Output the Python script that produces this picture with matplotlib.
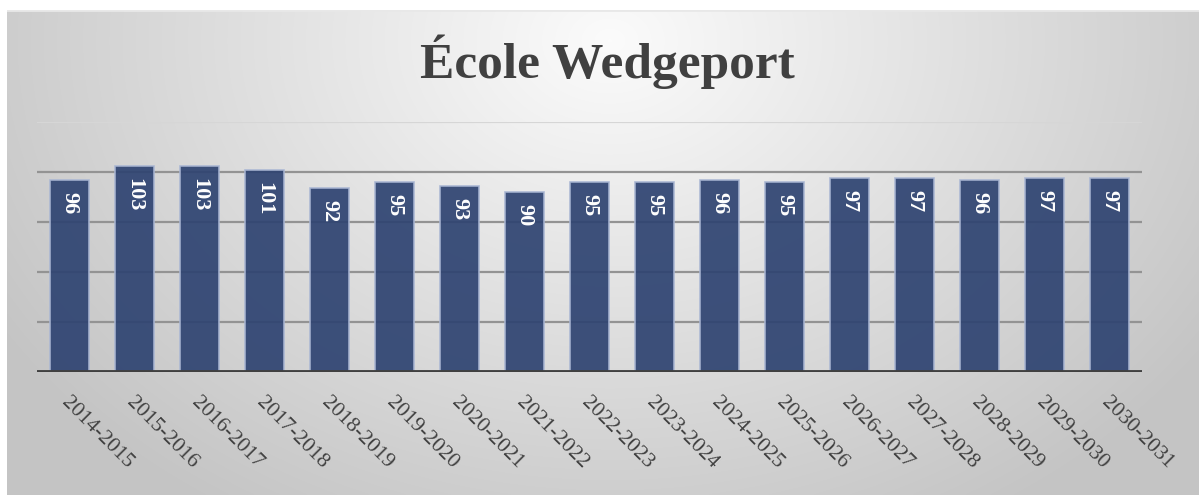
import numpy as np
import matplotlib
matplotlib.use("Agg")
import matplotlib.pyplot as plt

categories = ["2014-2015", "2015-2016", "2016-2017", "2017-2018", "2018-2019",
              "2019-2020", "2020-2021", "2021-2022", "2022-2023", "2023-2024",
              "2024-2025", "2025-2026", "2026-2027", "2027-2028", "2028-2029",
              "2029-2030", "2030-2031"]
values = [96, 103, 103, 101, 92, 95, 93, 90, 95, 95, 96, 95, 97, 97, 96, 97, 97]
title = "École Wedgeport"

W, H = 1199, 495
fig = plt.figure(figsize=(W / 100, H / 100), dpi=100)
fig.patch.set_facecolor("white")

# background radial gradient panel
bg = fig.add_axes([7 / W, 0, 1 - 7 / W, (H - 10) / H])
bg.set_axis_off()
nx, ny = 600, 250
xx, yy = np.meshgrid(np.linspace(7, W, nx), np.linspace(10, H, ny))
r = np.sqrt(((xx - 610) / 720) ** 2 + ((yy - 40) / 560) ** 2)
r = np.clip(r, 0, 1)
lo, hi = 0.985, 0.77
val = hi + (lo - hi) * (1 - r) ** 1.0
bg.imshow(np.dstack([val, val, val]), extent=[0, 1, 0, 1], aspect="auto",
          origin="upper", interpolation="bilinear")
bg.set_xlim(0, 1)
bg.set_ylim(0, 1)
bg.axhline(1, color="#e8e8e8", lw=2)

serif = ["Liberation Serif", "DejaVu Serif"]

ax = fig.add_axes([37 / W, (H - 372) / H, (1142 - 37) / W, (372 - 122) / H])
ax.patch.set_alpha(0)
x = np.arange(len(categories))
ax.set_ylim(0, 125)
ax.set_xlim(-0.5, len(categories) - 0.5)
ax.set_yticks([25, 50, 75, 100, 125])
for yv in [25, 50, 75, 100]:
    ax.axhline(yv, color="#939393", lw=1.6, zorder=1)
ax.axhline(125, color="#d6d6d6", lw=1.6, zorder=1)
ax.bar(x, values, width=0.6, color="#2e4371", alpha=0.92,
       edgecolor="#a9b6d3", linewidth=1.2, zorder=2)
ax.axhline(0, color="#404040", lw=3.5, zorder=3)

for xi, v in zip(x, values):
    ax.annotate(str(v), (xi, v), xytext=(0, -9), textcoords="offset points",
                rotation=-90, ha="center", va="top", color="white",
                fontsize=16, fontweight="bold", family=serif, zorder=4)

ax.set_xticks(x)
ax.set_xticklabels([])
for xi, c in zip(x, categories):
    ax.annotate(c, (xi, 0), xytext=(-4, -20), textcoords="offset points",
                rotation=-45, rotation_mode="anchor", ha="left", va="center",
                color="#404040", fontsize=15.5, family=serif, annotation_clip=False)
ax.tick_params(left=False, bottom=False, labelleft=False)
for s in ax.spines.values():
    s.set_visible(False)

fig.text(607 / W, 1 - 62 / H, title, ha="center", va="center", fontsize=37,
         fontweight="bold", color="#404040", family=serif)

fig.savefig("out.png", dpi=100)
